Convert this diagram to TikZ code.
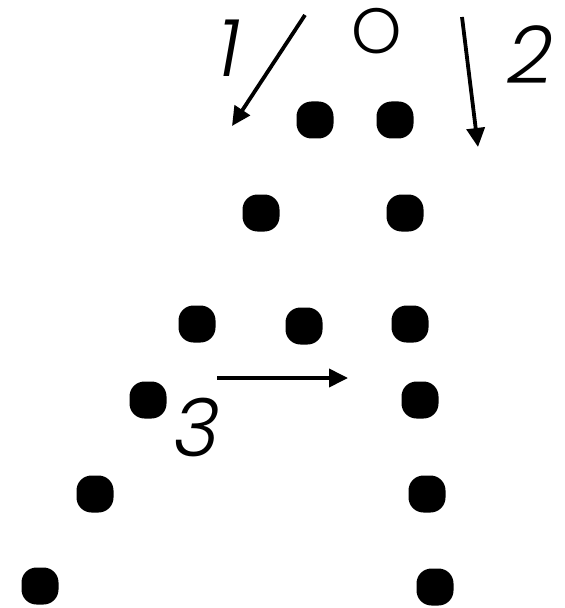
\documentclass[tikz,border=0pt]{standalone}
\usepackage{fontspec}
\newfontfamily\labfont{Poppins Light Italic}
\newfontfamily\labup{Poppins Light}
\usetikzlibrary{arrows.meta}
\begin{document}
\begin{tikzpicture}[x=1bp,y=-1bp,
  dot/.style={rectangle,fill=black,rounded corners=15bp,minimum width=37bp,minimum height=37bp,inner sep=0pt},
  lab/.style={inner sep=0pt,font=\labfont\fontsize{80bp}{80bp}\selectfont},
  labu/.style={inner sep=0pt,font=\labup\fontsize{64bp}{64bp}\selectfont},
  arr/.style={line width=3.8bp,-{Triangle[length=19bp,width=18bp]}}]
\useasboundingbox (0,0) rectangle (565,608);
% dots
\node[dot] (a1) at (315,120) {};
\node[dot] (a2) at (395,120) {};
\node[dot] (b1) at (261,213) {};
\node[dot] (b2) at (405,213) {};
\node[dot] (c1) at (197,324) {};
\node[dot] (c2) at (304,326) {};
\node[dot] (c3) at (410,324) {};
\node[dot] (d1) at (148,400) {};
\node[dot] (d2) at (420,400) {};
\node[dot] (e1) at (95,494) {};
\node[dot] (e2) at (427,494) {};
\node[dot] (f1) at (40,586) {};
\node[dot] (f2) at (435,587) {};
% labels
\node[labu] (l0) at (377,31) {O};
\node[lab] (l1) at (229,48) {1};
\node[lab] (l2) at (530,55) {2};
\node[lab] (l3) at (197,427) {3};
% arrow end points
\coordinate (s1) at (305,15);
\coordinate (t1) at (232,126);
\coordinate (s2) at (462,17);
\coordinate (t2) at (478,147);
\coordinate (s3) at (217,378);
\coordinate (t3) at (348,378);
\draw[arr] (s1) -- (t1);
\draw[arr] (s2) -- (t2);
\draw[arr] (s3) -- (t3);
\end{tikzpicture}
\end{document}
